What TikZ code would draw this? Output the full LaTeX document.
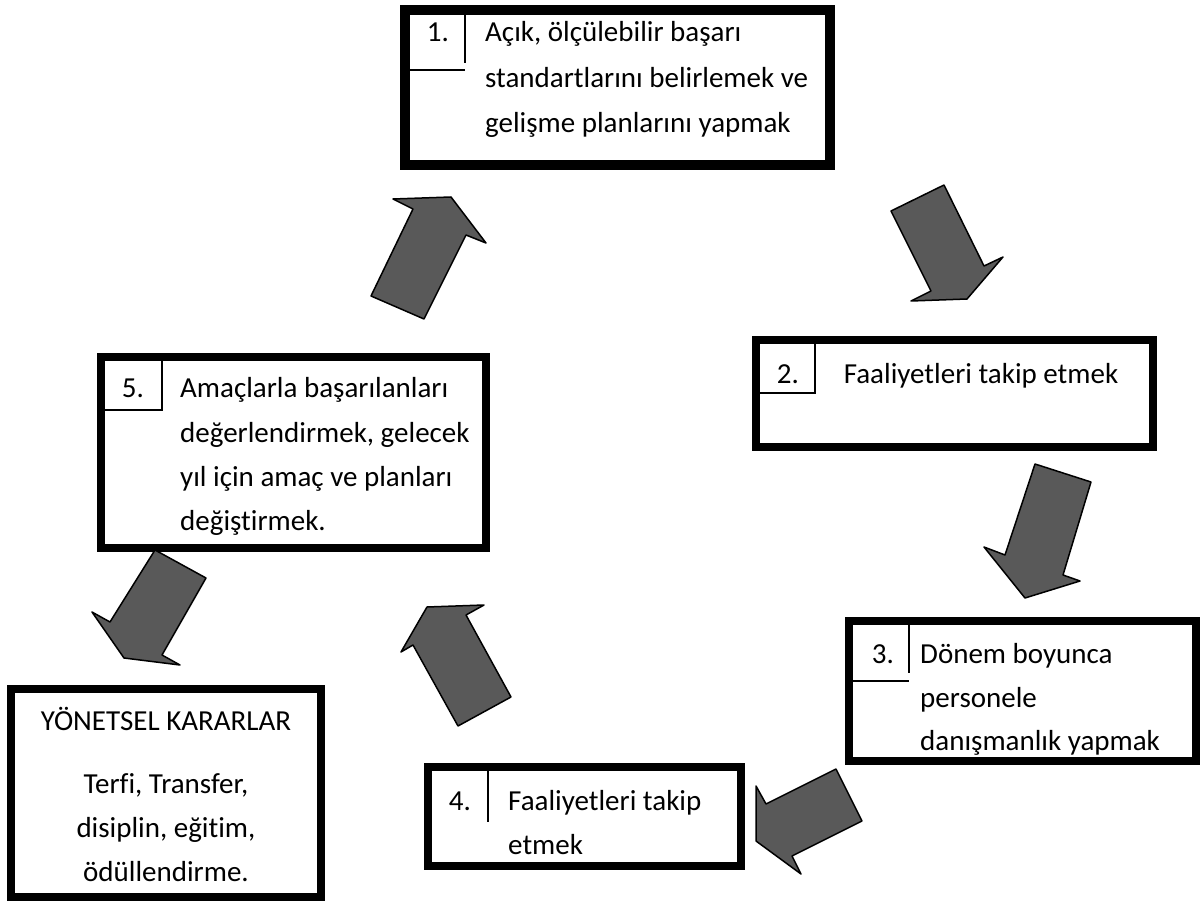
\documentclass[tikz,border=0pt]{standalone}
\usepackage{fontspec}
\setmainfont{Carlito}[Ligatures=CommonOff]
\definecolor{arrowgray}{HTML}{595959}
\tikzset{
  box/.style={draw=black, line width=8pt, fill=white, inner sep=0pt, minimum width=#1},
  heavybox/.style={box=#1, line width=10pt},
  cell/.style={draw=black, line width=1.3pt},
  txt/.style={font=\fontsize{29}{35}\selectfont, inner sep=0pt},
  blockarrow/.style={fill=arrowgray, draw=black, line width=1.5pt, line join=round}
}
\begin{document}
\begin{tikzpicture}[x=1pt, y=-1pt]
\useasboundingbox (0,0) rectangle (1200,904);

% --- boxes -------------------------------------------------------------
\node[heavybox=425pt, minimum height=155pt] (b1) at (617.5,87.5) {};
\node[box=397pt, minimum height=107pt] (b2) at (954.5,393.5) {};
\node[box=347pt, minimum height=140pt] (b3) at (1022.5,691) {};
\node[box=313pt, minimum height=99pt] (b4) at (584.5,816.5) {};
\node[box=385pt, minimum height=191pt] (b5) at (293.5,452.5) {};
\node[box=310pt, minimum height=208pt] (by) at (166,793) {};

% --- number cells ------------------------------------------------------
\draw[cell] (465,15) -- (465,63);
\draw[cell] (410,70) -- (465,70);
\draw[cell] (815,344) -- (815,393) -- (759,393);
\draw[cell] (909,625) -- (909,673);
\draw[cell] (853,681) -- (909,681);
\draw[cell] (488,771) -- (488,822);
\draw[cell] (162,360) -- (162,410) -- (105,410);

\node[txt, anchor=base] (n1) at (438,42) {1.};
\node[txt, anchor=base] (n2) at (788,383) {2.};
\node[txt, anchor=base] (n3) at (883,663) {3.};
\node[txt, anchor=base] (n4) at (460,810) {4.};
\node[txt, anchor=base] (n5) at (133,397) {5.};

% --- box texts ---------------------------------------------------------
\node[txt, anchor=base west] (t1a) at (485,42)  {Açık, ölçülebilir başarı};
\node[txt, anchor=base west] (t1b) at (485,88)  {standartlarını belirlemek ve};
\node[txt, anchor=base west] (t1c) at (485,133) {gelişme planlarını yapmak};

\node[txt, anchor=base] (t2a) at (981,383) {Faaliyetleri takip etmek};

\node[txt, anchor=base west] (t3a) at (920,663) {Dönem boyunca};
\node[txt, anchor=base west] (t3b) at (920,707) {personele};
\node[txt, anchor=base west] (t3c) at (920,750) {danışmanlık yapmak};

\node[txt, anchor=base west] (t4a) at (508,810) {Faaliyetleri takip};
\node[txt, anchor=base west] (t4b) at (508,854) {etmek};

\node[txt, anchor=base west] (t5a) at (180,397) {Amaçlarla başarılanları};
\node[txt, anchor=base west] (t5b) at (180,442) {değerlendirmek, gelecek};
\node[txt, anchor=base west] (t5c) at (180,486) {yıl için amaç ve planları};
\node[txt, anchor=base west] (t5d) at (180,530) {değiştirmek.};

\node[txt, anchor=base] (ya) at (166,730) {YÖNETSEL KARARLAR};
\node[txt, anchor=base] (yb) at (166,793) {Terfi, Transfer,};
\node[txt, anchor=base] (yc) at (166,837) {disiplin, eğitim,};
\node[txt, anchor=base] (yd) at (166,881) {ödüllendirme.};

% --- block arrows of the cycle ----------------------------------------
% 5 -> 1
\draw[blockarrow] (371,296) -- (413,209) -- (393,199) -- (451,197)
  -- (486,243) -- (466,235) -- (424,319) -- cycle;
% 1 -> 2
\draw[blockarrow] (891,211) -- (944,185) -- (984,266) -- (1003,257)
  -- (967,299) -- (911,301) -- (931,291) -- cycle;
% 2 -> 3
\draw[blockarrow] (1035,464) -- (1091,482) -- (1063,575) -- (1080,581)
  -- (1025,598) -- (984,547) -- (1005,555) -- cycle;
% 3 -> 4
\draw[blockarrow] (836,769) -- (862,821) -- (792,856) -- (801,874)
  -- (756,841) -- (756,786) -- (766,804) -- cycle;
% 4 -> 5
\draw[blockarrow] (458,726) -- (511,697) -- (466,615) -- (484,605)
  -- (427,607) -- (401,652) -- (413,645) -- cycle;
% 5 -> decisions
\draw[blockarrow] (155,550) -- (206,578) -- (162,655) -- (180,665)
  -- (124,658) -- (92,612) -- (110,622) -- cycle;
\end{tikzpicture}
\end{document}
